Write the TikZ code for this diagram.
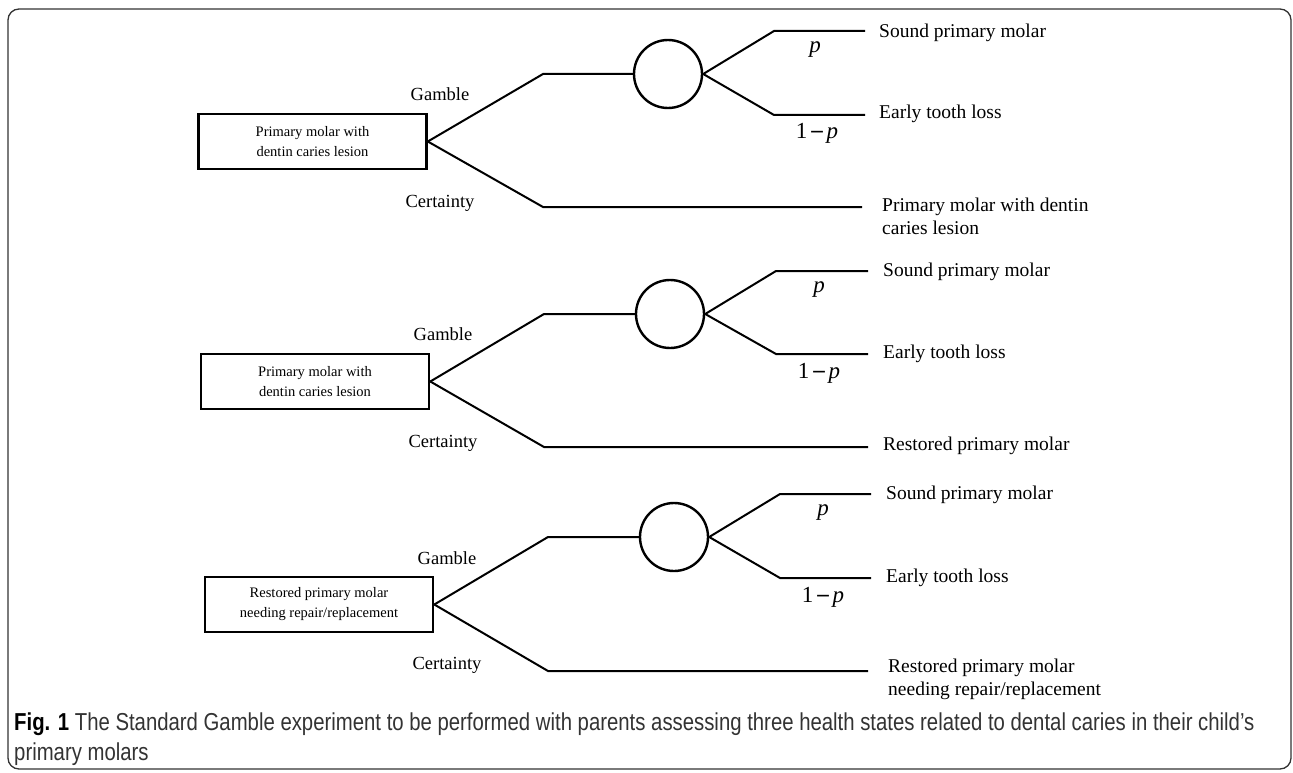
\documentclass[tikz,border=0pt]{standalone}
\usepackage{fontspec}
\setmainfont{Liberation Serif}
\newfontfamily\capfont[FakeStretch=0.83]{Liberation Sans}
\newcommand{\pp}{\textit{p}}
\newcommand{\qq}{1\,\textbf{\raisebox{0.02em}{–}}\,\textit{p}}
\begin{document}
\begin{tikzpicture}[x=1pt,y=-1pt,
  ln/.style={line width=2pt, line join=miter},
  statebox/.style={draw, line width=2.6pt, minimum width=228pt, minimum height=55pt, inner sep=0pt, align=center, font=\fontsize{14.5}{20}\selectfont},
  chance/.style={draw, circle, line width=2.4pt, minimum size=68pt, inner sep=0pt},
  lab/.style={font=\fontsize{18.5}{22}\selectfont, inner sep=0pt},
  outc/.style={font=\fontsize{19.5}{23}\selectfont, inner sep=0pt, anchor=west, align=left},
  prob/.style={font=\fontsize{23}{26}\selectfont, inner sep=0pt}]
\useasboundingbox (0,0) rectangle (1293,773);
\draw[line width=1.3pt, rounded corners=11pt, black!80] (8,9) rectangle (1291,769);

% Panel 1
\node[statebox] (box1) at (312.5,141.5) {Primary molar with\\dentin caries lesion};
\coordinate (g1) at (543,74);
\coordinate (t1) at (543,207);
\node[chance] (c1) at (668,74) {};
\coordinate (u1) at (774,31);
\coordinate (u1e) at (865,31);
\coordinate (d1) at (774,115);
\coordinate (d1e) at (865,115);
\coordinate (t1e) at (862,207);
\draw[ln] (box1.east) -- (g1) -- (c1);
\draw[ln] (box1.east) -- (t1) -- (t1e);
\draw[ln] (c1.east) -- (u1) -- (u1e);
\draw[ln] (c1.east) -- (d1) -- (d1e);
\node[lab] (gl1) at (440,94) {Gamble};
\node[lab] (cl1) at (440,203) {Certainty};
\node[prob] (p1) at (815,50) {\pp};
\node[prob] (q1) at (817,133) {\qq};
\node[outc] (o1a) at (879,33) {Sound primary molar};
\node[outc] (o1b) at (879,114) {Early tooth loss};
\node[outc] (o1c) at (882,216) {Primary molar with dentin\\caries lesion};

% Panel 2
\node[statebox] (box2) at (315,381.5) {Primary molar with\\dentin caries lesion};
\coordinate (g2) at (544,314);
\coordinate (t2) at (544,447);
\node[chance] (c2) at (670,314) {};
\coordinate (u2) at (776,271);
\coordinate (u2e) at (868,271);
\coordinate (d2) at (776,354);
\coordinate (d2e) at (868,354);
\coordinate (t2e) at (868,447);
\draw[ln] (box2.east) -- (g2) -- (c2);
\draw[ln] (box2.east) -- (t2) -- (t2e);
\draw[ln] (c2.east) -- (u2) -- (u2e);
\draw[ln] (c2.east) -- (d2) -- (d2e);
\node[lab] (gl2) at (443,334) {Gamble};
\node[lab] (cl2) at (443,443) {Certainty};
\node[prob] (p2) at (819,290) {\pp};
\node[prob] (q2) at (819,373) {\qq};
\node[outc] (o2a) at (883,272) {Sound primary molar};
\node[outc] (o2b) at (883,354) {Early tooth loss};
\node[outc] (o2c) at (883,446) {Restored primary molar};

% Panel 3
\node[statebox] (box3) at (319,604.5) {Restored primary molar\\needing repair/replacement};
\coordinate (g3) at (548,537);
\coordinate (t3) at (548,671);
\node[chance] (c3) at (674,537) {};
\coordinate (u3) at (780,494);
\coordinate (u3e) at (871,494);
\coordinate (d3) at (780,578);
\coordinate (d3e) at (871,578);
\coordinate (t3e) at (868,671);
\draw[ln] (box3.east) -- (g3) -- (c3);
\draw[ln] (box3.east) -- (t3) -- (t3e);
\draw[ln] (c3.east) -- (u3) -- (u3e);
\draw[ln] (c3.east) -- (d3) -- (d3e);
\node[lab] (gl3) at (447,558) {Gamble};
\node[lab] (cl3) at (447,665) {Certainty};
\node[prob] (p3) at (823,513) {\pp};
\node[prob] (q3) at (823,597) {\qq};
\node[outc] (o3a) at (886,495) {Sound primary molar};
\node[outc] (o3b) at (886,578) {Early tooth loss};
\node[outc] (o3c) at (888,679) {Restored primary molar\\needing repair/replacement};

% Caption
\node[anchor=base west, inner sep=0pt, align=left, font=\capfont\fontsize{24.5}{29.5}\selectfont, text=black!80] (cap) at (14,760)
  {\textcolor{black}{\textbf{Fig. 1}} The Standard Gamble experiment to be performed with parents assessing three health states related to dental caries in their child’s\\primary molars};
\end{tikzpicture}
\end{document}
